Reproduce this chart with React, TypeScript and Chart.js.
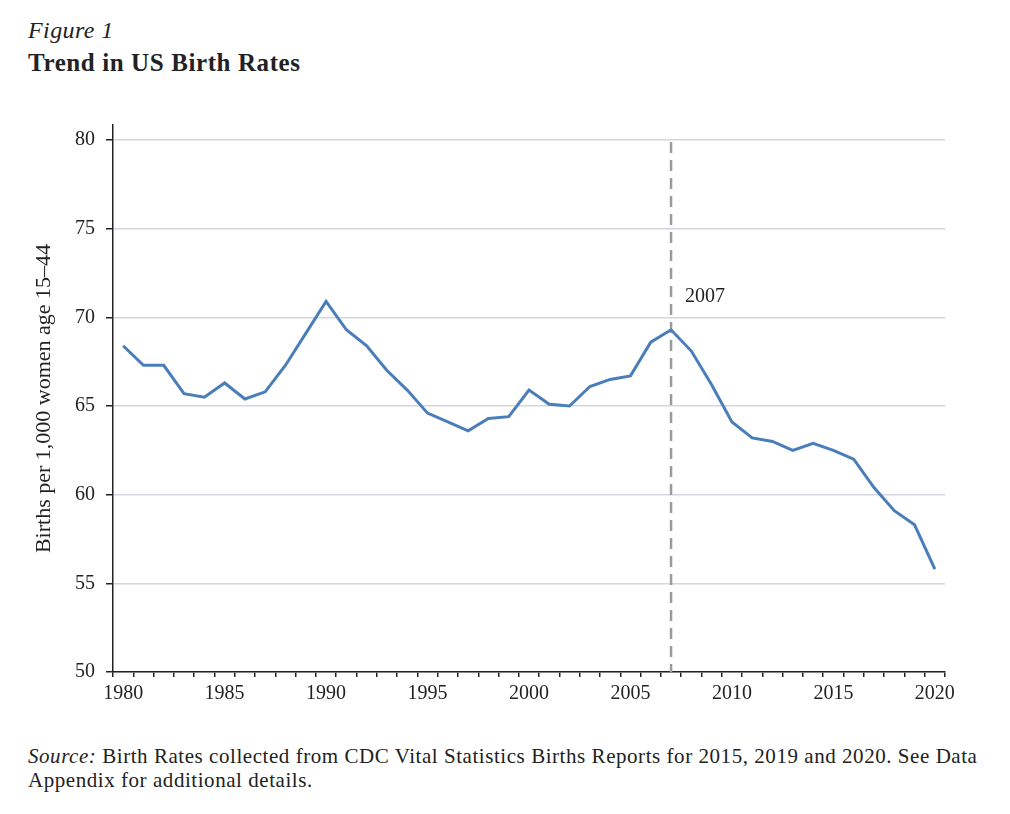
import React, { useEffect, useRef } from 'react';
import { Chart, registerables } from 'chart.js';

Chart.register(...registerables);

const years: number[] = [
  1980, 1981, 1982, 1983, 1984, 1985, 1986, 1987, 1988, 1989,
  1990, 1991, 1992, 1993, 1994, 1995, 1996, 1997, 1998, 1999,
  2000, 2001, 2002, 2003, 2004, 2005, 2006, 2007, 2008, 2009,
  2010, 2011, 2012, 2013, 2014, 2015, 2016, 2017, 2018, 2019, 2020,
];

const birthRates: number[] = [
  68.4, 67.3, 67.3, 65.7, 65.5, 66.3, 65.4, 65.8, 67.3, 69.1,
  70.9, 69.3, 68.4, 67.0, 65.9, 64.6, 64.1, 63.6, 64.3, 64.4,
  65.9, 65.1, 65.0, 66.1, 66.5, 66.7, 68.6, 69.3, 68.1, 66.2,
  64.1, 63.2, 63.0, 62.5, 62.9, 62.5, 62.0, 60.4, 59.1, 58.3, 55.8,
];

const yTicks: number[] = [50, 55, 60, 65, 70, 75, 80];
const labeledYears: number[] = [1980, 1985, 1990, 1995, 2000, 2005, 2010, 2015, 2020];
const markerYear = 2007;
const markerLabel = '2007';

const FONT = '"Liberation Serif", "Times New Roman", serif';

const markerPlugin = {
  id: 'markerLine',
  beforeDatasetsDraw(chart: any) {
    const { ctx, scales } = chart;
    const xs = scales.x;
    const ys = scales.y;
    const idx = years.indexOf(markerYear);
    const x = xs.getPixelForValue(idx);
    const yTop = ys.getPixelForValue(yTicks[yTicks.length - 1]) + 2;
    const yBot = ys.getPixelForValue(yTicks[0]);
    ctx.save();
    ctx.strokeStyle = '#9b9b9b';
    ctx.lineWidth = 2.5;
    ctx.setLineDash([11, 7]);
    ctx.beginPath();
    ctx.moveTo(x, yTop);
    ctx.lineTo(x, yBot);
    ctx.stroke();
    ctx.setLineDash([]);
    ctx.fillStyle = '#222';
    ctx.font = `20px ${FONT}`;
    ctx.textAlign = 'left';
    ctx.textBaseline = 'alphabetic';
    ctx.fillText(markerLabel, x + 14, ys.getPixelForValue(70.85));
    ctx.restore();
  },
};

export default function App() {
  const canvasRef = useRef<HTMLCanvasElement | null>(null);

  useEffect(() => {
    if (!canvasRef.current) return;
    const chart = new Chart(canvasRef.current, {
      type: 'line',
      data: {
        labels: years.map(String),
        datasets: [
          {
            data: birthRates,
            borderColor: '#4a7ebb',
            borderWidth: 3,
            pointRadius: 0,
            tension: 0,
            fill: false,
          },
        ],
      },
      options: {
        animation: false,
        responsive: false,
        maintainAspectRatio: false,
        layout: { padding: { top: 25, right: 65, left: 0, bottom: 0 } },
        plugins: {
          legend: { display: false },
          tooltip: { enabled: false },
        },
        scales: {
          x: {
            type: 'category',
            offset: true,
            grid: {
              offset: true,
              drawOnChartArea: false,
              drawTicks: true,
              tickLength: 5,
              tickColor: '#222',
              lineWidth: 1.5,
            },
            border: { display: true, color: '#222', width: 1.5 },
            ticks: {
              autoSkip: false,
              maxRotation: 0,
              minRotation: 0,
              padding: 5,
              color: '#222',
              font: { family: FONT, size: 20 },
              callback: (_v: any, i: number) =>
                labeledYears.includes(years[i]) ? String(years[i]) : '',
            },
            afterFit: (scale: any) => {
              scale.height = 48;
            },
          },
          y: {
            type: 'linear',
            min: 50,
            max: 80.85,
            afterBuildTicks: (scale: any) => {
              scale.ticks = yTicks.map((v) => ({ value: v }));
            },
            afterFit: (scale: any) => {
              scale.width = 113;
            },
            grid: {
              drawOnChartArea: true,
              color: '#d3d6de',
              lineWidth: 1.5,
              drawTicks: true,
              tickLength: 7,
              tickColor: '#222',
            },
            border: { display: true, color: '#222', width: 1.5 },
            ticks: {
              padding: 11,
              color: '#222',
              font: { family: FONT, size: 20 },
              callback: (v: any) => String(v),
            },
            title: {
              display: true,
              text: 'Births per 1,000 women age 15–44',
              color: '#222',
              font: { family: FONT, size: 22 },
              padding: { top: 31, bottom: 0 },
            },
          },
        },
      },
      plugins: [markerPlugin],
    });
    return () => chart.destroy();
  }, []);

  return (
    <div
      style={{
        position: 'absolute',
        left: 0,
        top: 0,
        width: 1010,
        height: 814,
        background: '#ffffff',
        fontFamily: FONT,
        color: '#222',
      }}
    >
      <div
        style={{
          position: 'absolute',
          left: 28,
          top: 15,
          fontSize: 24,
          lineHeight: '30px',
          fontStyle: 'italic',
          letterSpacing: '0.4px',
          whiteSpace: 'nowrap',
        }}
      >
        Figure 1
      </div>
      <div
        style={{
          position: 'absolute',
          left: 28,
          top: 48,
          fontSize: 25,
          lineHeight: '30px',
          fontWeight: 'bold',
          letterSpacing: '0.6px',
          whiteSpace: 'nowrap',
        }}
      >
        Trend in US Birth Rates
      </div>
      <canvas
        ref={canvasRef}
        width={1010}
        height={620}
        style={{ position: 'absolute', left: 0, top: 100, width: 1010, height: 620 }}
      />
      <div
        style={{
          position: 'absolute',
          left: 28,
          top: 744,
          fontSize: 21,
          lineHeight: '24px',
          letterSpacing: '0.55px',
          whiteSpace: 'nowrap',
        }}
      >
        <i>Source:</i> Birth Rates collected from CDC Vital Statistics Births Reports for 2015, 2019 and 2020. See Data
        <br />
        Appendix for additional details.
      </div>
    </div>
  );
}
